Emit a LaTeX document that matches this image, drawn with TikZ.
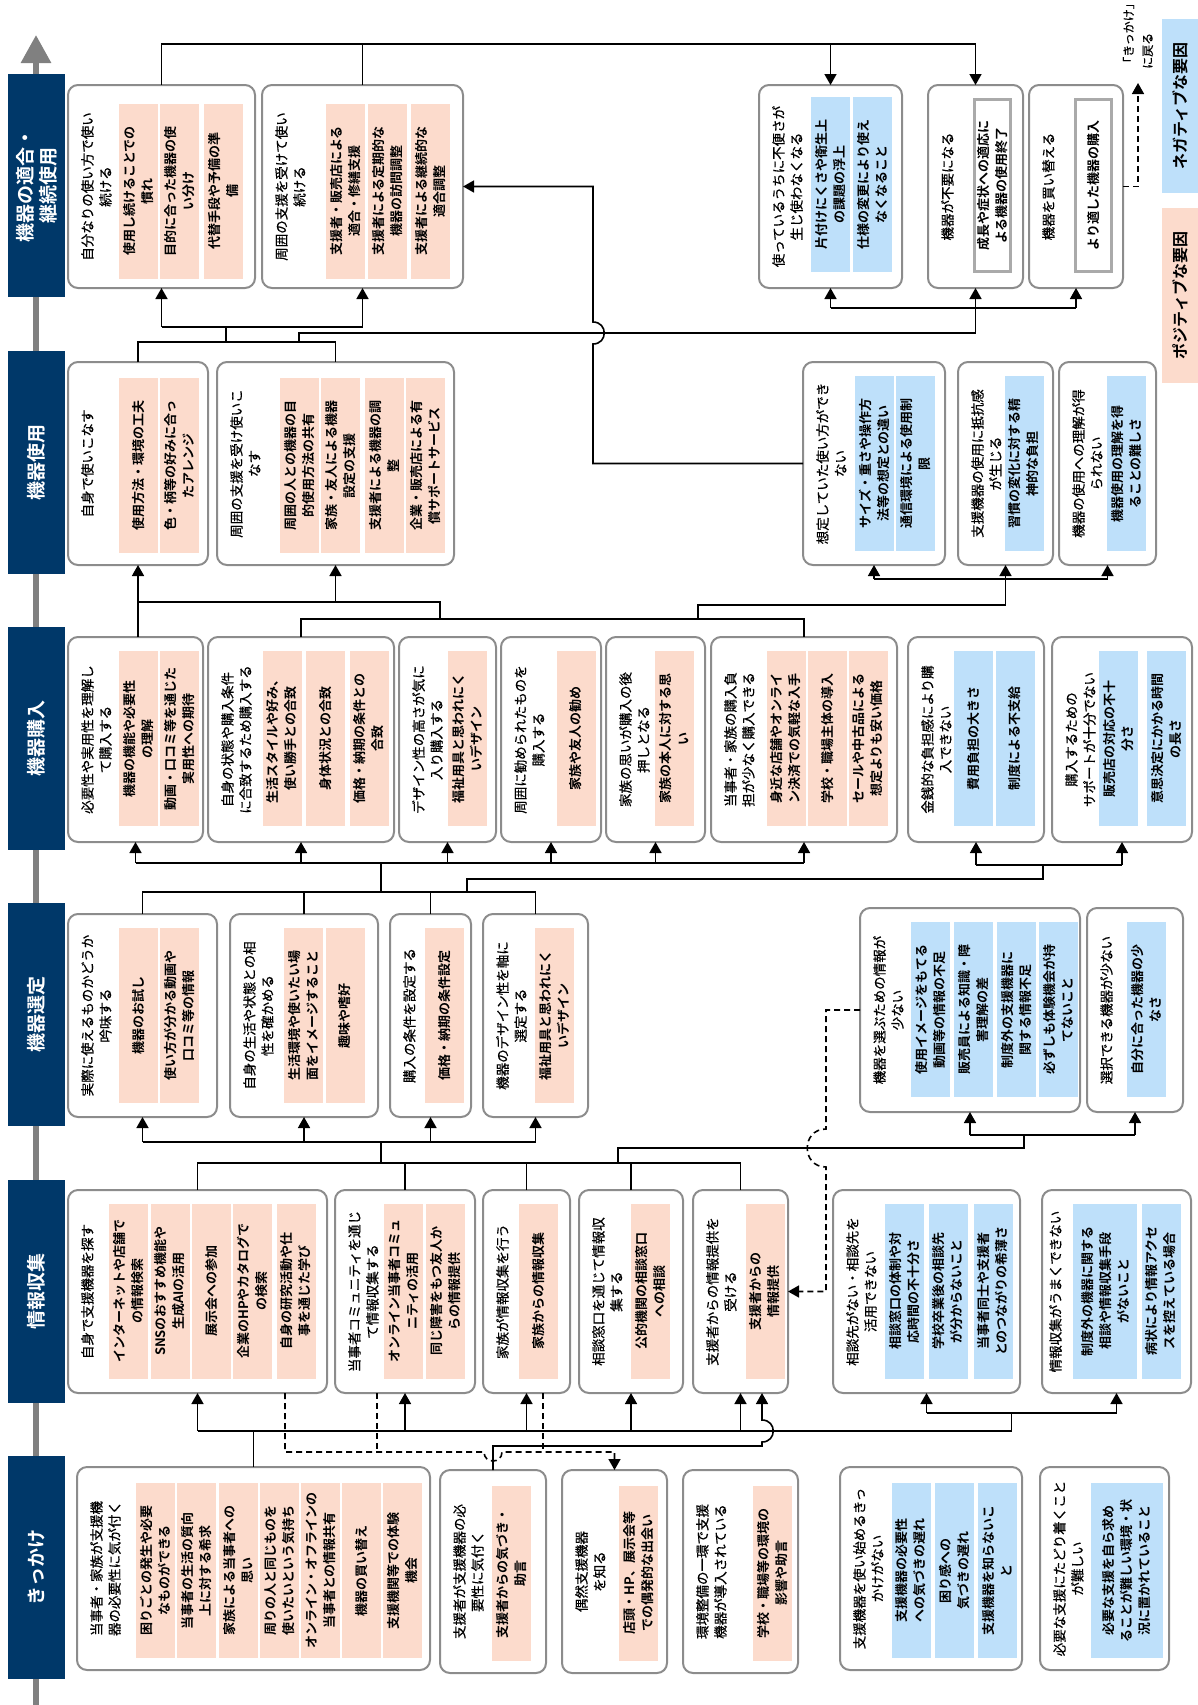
\documentclass[tikz,border=0pt]{standalone}
\usepackage{fontspec}
\setmainfont{Noto Sans CJK JP}[BoldFont={Noto Sans CJK JP Bold}]
\newfontfamily\ttlfont{Noto Sans CJK JP}[FakeBold=0.5]
\usetikzlibrary{arrows.meta}
\definecolor{navy}{RGB}{0,56,105}
\definecolor{posfill}{RGB}{252,219,204}
\definecolor{negfill}{RGB}{190,224,250}
\definecolor{cardgray}{RGB}{140,140,140}
\definecolor{keepgray}{RGB}{170,170,170}
\definecolor{flowgray}{RGB}{128,128,128}

\begin{document}
\begin{tikzpicture}[x=1pt, y=-1pt,
  card/.style={draw=cardgray, line width=2pt, rounded corners=10pt, fill=white, rotate=90, inner sep=0pt, outer sep=0pt},
  ttl/.style={rotate=90, anchor=north, align=center, inner sep=0pt, font=\ttlfont\fontsize{13.5pt}{18pt}\selectfont},
  good/.style={rotate=90, fill=posfill, align=center, inner sep=0pt, minimum width=175pt, minimum height=39pt, font=\fontsize{13pt}{18pt}\selectfont\bfseries},
  bad/.style={good, fill=negfill},
  keep/.style={rotate=90, draw=keepgray, line width=3pt, fill=white, align=center, inner sep=0pt, minimum width=172pt, minimum height=36pt, font=\fontsize{13pt}{18pt}\selectfont\bfseries},
  stage/.style={rotate=90, fill=navy, text=white, align=center, inner sep=0pt, minimum width=223pt, minimum height=57pt, font=\fontsize{19pt}{23pt}\selectfont\bfseries},
  tag/.style={rotate=90, inner sep=0pt, minimum height=36pt, font=\fontsize{16pt}{20pt}\selectfont\bfseries},
  link/.style={line width=1.6pt},
  arr/.style={link, -{Triangle[length=11pt,width=12pt]}},
  dashln/.style={link, dash pattern=on 6pt off 4pt},
  dasharr/.style={dashln, -{Triangle[length=11pt,width=12pt]}}]
\useasboundingbox (0,0) rectangle (1198,1705);

% flow of stages
\draw[line width=6pt, flowgray, -{Triangle[length=28pt,width=29pt]}] (36,1705) -- (36,35);
\node[stage] (h1) at (36.5,1567.5) {きっかけ};
\node[stage] (h2) at (36.5,1291.5) {情報収集};
\node[stage] (h3) at (36.5,1014.5) {機器選定};
\node[stage] (h4) at (36.5,738.5) {機器購入};
\node[stage] (h5) at (36.5,462) {機器使用};
\node[stage] (h6) at (36.5,185.5) {機器の適合・\\継続使用};

% legend
\node[tag, fill=negfill, minimum width=174pt] (lgneg) at (1180,106) {ネガティブな要因};
\node[tag, fill=posfill, minimum width=175pt] (lgpos) at (1180,295.5) {ポジティブな要因};

% ---- きっかけ
\node[card, minimum width=203pt, minimum height=353pt] (f1) at (253.5,1568.5) {};
\node[ttl] at (90,1568.5) {当事者・家族が支援機\\器の必要性に気が付く};
\node[good] (f1a) at (155.5,1570.5) {困りごとの発生や必要\\なものができる};
\node[good] (f1b) at (196.5,1570.5) {当事者の生活の質向\\上に対する希求};
\node[good] (f1c) at (238,1570.5) {家族による当事者への\\思い};
\node[good] (f1d) at (279.5,1570.5) {周りの人と同じものを\\使いたいという気持ち};
\node[good] (f1e) at (320.5,1570.5) {オンライン・オフラインの\\当事者との情報共有};
\node[good] (f1f) at (361.5,1570.5) {機器の買い替え};
\node[good] (f1g) at (402.5,1570.5) {支援機関等での体験\\機会};

\node[card, minimum width=203pt, minimum height=106pt] (f2) at (493,1571.5) {};
\node[ttl] at (453,1571.5) {支援者が支援機器の必\\要性に気付く};
\node[good] (f2a) at (511.5,1573) {支援者からの気づき・\\助言};

\node[card, minimum width=203pt, minimum height=105pt] (f3) at (614.5,1571.5) {};
\node[ttl] at (575,1571.5) {偶然支援機器\\を知る};
\node[good] (f3a) at (638.5,1573) {店頭・HP、展示会等\\での偶発的な出会い};

\node[card, minimum width=203pt, minimum height=115pt] (f4) at (740.5,1571.5) {};
\node[ttl] at (696,1571.5) {環境整備の一環で支援\\機器が導入されている};
\node[good] (f4a) at (772.5,1573) {学校・職場等の環境の\\影響や助言};

\node[card, minimum width=203pt, minimum height=182pt] (f5) at (931,1568.5) {};
\node[ttl] at (853,1568.5) {支援機器を使い始めるきっ\\かけがない};
\node[bad] (f5a) at (911,1570.5) {支援機器の必要性\\への気づきの遅れ};
\node[bad] (f5b) at (954.5,1570.5) {困り感への\\気づきの遅れ};
\node[bad] (f5c) at (997.5,1570.5) {支援機器を知らないこ\\と};

\node[card, minimum width=203pt, minimum height=129pt] (f6) at (1104.5,1568.5) {};
\node[ttl] at (1053,1568.5) {必要な支援にたどり着くこと\\が難しい};
\node[bad, minimum height=72pt] (f6a) at (1127,1570.5) {必要な支援を自ら求め\\ることが難しい環境・状\\況に置かれていること};

% ---- 情報収集
\node[card, minimum width=203pt, minimum height=259pt] (e1) at (197.5,1291.5) {};
\node[ttl] at (81,1291.5) {自身で支援機器を探す};
\node[good] (e1a) at (128.5,1291) {インターネットや店舗で\\の情報検索};
\node[good] (e1b) at (170,1291) {SNSのおすすめ機能や\\生成AIの活用};
\node[good] (e1c) at (211.5,1291) {展示会への参加};
\node[good] (e1d) at (252.5,1291) {企業のHPやカタログで\\の検索};
\node[good] (e1e) at (296,1291) {自身の研究活動や仕\\事を通じた学び};

\node[card, minimum width=203pt, minimum height=140pt] (e2) at (405,1291.5) {};
\node[ttl] at (348,1291.5) {当事者コミュニティを通じ\\て情報収集する};
\node[good] (e2a) at (403.5,1291) {オンライン当事者コミュ\\ニティの活用};
\node[good] (e2b) at (445.5,1291) {同じ障害をもつ友人か\\らの情報提供};

\node[card, minimum width=203pt, minimum height=87pt] (e3) at (526.5,1291.5) {};
\node[ttl] at (496,1291.5) {家族が情報収集を行う};
\node[good] (e3a) at (538.5,1291) {家族からの情報収集};

\node[card, minimum width=203pt, minimum height=104pt] (e4) at (631,1291.5) {};
\node[ttl] at (592,1291.5) {相談窓口を通じて情報収\\集する};
\node[good] (e4a) at (650.5,1291) {公的機関の相談窓口\\への相談};

\node[card, minimum width=203pt, minimum height=95pt] (e5) at (740.5,1291.5) {};
\node[ttl] at (706,1291.5) {支援者からの情報提供を\\受ける};
\node[good] (e5a) at (765,1291) {支援者からの\\情報提供};

\node[card, minimum width=203pt, minimum height=187pt] (e6) at (926.5,1291.5) {};
\node[ttl] at (846,1291.5) {相談先がない・相談先を\\活用できない};
\node[bad] (e6a) at (904.5,1291) {相談窓口の体制や対\\応時間の不十分さ};
\node[bad] (e6b) at (948,1291) {学校卒業後の相談先\\が分からないこと};
\node[bad] (e6c) at (993,1291) {当事者同士や支援者\\とのつながりの希薄さ};

\node[card, minimum width=203pt, minimum height=149pt] (e7) at (1116.5,1291.5) {};
\node[ttl] at (1049,1291.5) {情報収集がうまくできない};
\node[bad, minimum height=64pt] (e7a) at (1105,1291) {制度外の機器に関する\\相談や情報収集手段\\がないこと};
\node[bad] (e7b) at (1161,1291) {病状により情報アクセ\\スを控えている場合};

% ---- 機器選定
\node[card, minimum width=203pt, minimum height=149pt] (d1) at (142.5,1015.5) {};
\node[ttl] at (81,1015.5) {実際に使えるものかどうか\\吟味する};
\node[good] (d1a) at (138.5,1015.5) {機器のお試し};
\node[good] (d1b) at (179.5,1015.5) {使い方が分かる動画や\\口コミ等の情報};

\node[card, minimum width=203pt, minimum height=148pt] (d2) at (304,1015.5) {};
\node[ttl] at (243,1015.5) {自身の生活や状態との相\\性を確かめる};
\node[good] (d2a) at (303.5,1015.5) {生活環境や使いたい場\\面をイメージすること};
\node[good] (d2b) at (345,1015.5) {趣味や嗜好};

\node[card, minimum width=203pt, minimum height=81pt] (d3) at (430.5,1015.5) {};
\node[ttl] at (403,1015.5) {購入の条件を設定する};
\node[good] (d3a) at (444.5,1015.5) {価格・納期の条件設定};

\node[card, minimum width=203pt, minimum height=105pt] (d4) at (535.5,1015.5) {};
\node[ttl] at (496,1015.5) {機器のデザイン性を軸に\\選定する};
\node[good] (d4a) at (554,1015.5) {福祉用具と思われにく\\いデザイン};

\node[card, minimum width=204pt, minimum height=220pt] (d5) at (970,1010) {};
\node[ttl] at (873,1010) {機器を選ぶための情報が\\少ない};
\node[bad] (d5a) at (930.5,1009.5) {使用イメージをもてる\\動画等の情報の不足};
\node[bad] (d5b) at (973.5,1009.5) {販売員による知識・障\\害理解の差};
\node[bad] (d5c) at (1016.5,1009.5) {制度外の支援機器に\\関する情報不足};
\node[bad] (d5d) at (1058.5,1009.5) {必ずしも体験機会が持\\てないこと};

\node[card, minimum width=204pt, minimum height=96pt] (d6) at (1135,1010) {};
\node[ttl] at (1100,1010) {選択できる機器が少ない};
\node[bad] (d6a) at (1146.5,1009.5) {自分に合った機器の少\\なさ};

% ---- 機器購入
\node[card, minimum width=205pt, minimum height=135pt] (c1) at (135.5,739.5) {};
\node[ttl] at (81,739.5) {必要性や実用性を理解し\\て購入する};
\node[good] (c1a) at (138.5,738.5) {機器の機能や必要性\\の理解};
\node[good] (c1b) at (179.5,738.5) {動画・口コミ等を通じた\\実用性への期待};

\node[card, minimum width=205pt, minimum height=186pt] (c2) at (301,739.5) {};
\node[ttl] at (221,739.5) {自身の状態や購入条件\\に合致するため購入する};
\node[good] (c2a) at (282,738.5) {生活スタイルや好み、\\使い勝手との合致};
\node[good] (c2b) at (325.5,738.5) {身体状況との合致};
\node[good] (c2c) at (369,738.5) {価格・納期の条件との\\合致};

\node[card, minimum width=205pt, minimum height=97pt] (c3) at (447.5,739.5) {};
\node[ttl] at (412,739.5) {デザイン性の高さが気に\\入り購入する};
\node[good] (c3a) at (467,738.5) {福祉用具と思われにく\\いデザイン};

\node[card, minimum width=205pt, minimum height=100pt] (c4) at (551,739.5) {};
\node[ttl] at (514,739.5) {周囲に勧められたものを\\購入する};
\node[good] (c4a) at (576,738.5) {家族や友人の勧め};

\node[card, minimum width=205pt, minimum height=99pt] (c5) at (655.5,739.5) {};
\node[ttl] at (619,739.5) {家族の思いが購入の後\\押しとなる};
\node[good] (c5a) at (674,738.5) {家族の本人に対する思\\い};

\node[card, minimum width=205pt, minimum height=186pt] (c6) at (804,739.5) {};
\node[ttl] at (724,739.5) {当事者・家族の購入負\\担が少なく購入できる};
\node[good] (c6a) at (786,738.5) {身近な店舗やオンライ\\ン決済での気軽な入手};
\node[good] (c6b) at (827.5,738.5) {学校・職場主体の導入};
\node[good] (c6c) at (868,738.5) {セールや中古品による\\想定よりも安い価格};

\node[card, minimum width=205pt, minimum height=136pt] (c7) at (976,739.5) {};
\node[ttl] at (921,739.5) {金銭的な負担感により購\\入できない};
\node[bad] (c7a) at (973.5,738.5) {費用負担の大きさ};
\node[bad] (c7b) at (1015,738.5) {制度による不支給};

\node[card, minimum width=205pt, minimum height=140pt] (c8) at (1122,739.5) {};
\node[ttl] at (1065,739.5) {購入するための\\サポートが十分でない};
\node[bad] (c8a) at (1118.5,738.5) {販売店の対応の不十\\分さ};
\node[bad] (c8b) at (1166.5,738.5) {意思決定にかかる時間\\の長さ};

% ---- 機器使用
\node[card, minimum width=203pt, minimum height=140pt] (b1) at (138,463.5) {};
\node[ttl] at (81,463.5) {自身で使いこなす};
\node[good] (b1a) at (138.5,465.5) {使用方法・環境の工夫};
\node[good] (b1b) at (179.5,465.5) {色・柄等の好みに合っ\\たアレンジ};

\node[card, minimum width=203pt, minimum height=237pt] (b2) at (335.5,463.5) {};
\node[ttl] at (230,463.5) {周囲の支援を受け使いこ\\なす};
\node[good] (b2a) at (299.5,465.5) {周囲の人との機器の目\\的使用方法の共有};
\node[good] (b2b) at (340.5,465.5) {家族・友人による機器\\設定の支援};
\node[good] (b2c) at (384,465.5) {支援者による機器の調\\整};
\node[good] (b2d) at (425.5,465.5) {企業・販売店による有\\償サポートサービス};

\node[card, minimum width=203pt, minimum height=142pt] (b3) at (874,463.5) {};
\node[ttl] at (816,463.5) {想定していた使い方ができ\\ない};
\node[bad] (b3a) at (874.5,463.5) {サイズ・重さや操作方\\法等の想定との違い};
\node[bad] (b3b) at (915.5,463.5) {通信環境による使用制\\限};

\node[card, minimum width=203pt, minimum height=95pt] (b4) at (1005.5,463.5) {};
\node[ttl] at (971,463.5) {支援機器の使用に抵抗感\\が生じる};
\node[bad] (b4a) at (1024,463.5) {習慣の変化に対する精\\神的な負担};

\node[card, minimum width=203pt, minimum height=97pt] (b5) at (1107.5,463.5) {};
\node[ttl] at (1072,463.5) {機器の使用への理解が得\\られない};
\node[bad] (b5a) at (1126.5,463.5) {機器使用の理解を得\\ることの難しさ};

% ---- 機器の適合・継続使用
\node[card, minimum width=203pt, minimum height=187pt] (a1) at (161.5,186.5) {};
\node[ttl] at (81,186.5) {自分なりの使い方で使い\\続ける};
\node[good] (a1a) at (138.5,191) {使用し続けることでの\\慣れ};
\node[good] (a1b) at (179.5,191) {目的に合った機器の使\\い分け};
\node[good] (a1c) at (223.5,191) {代替手段や予備の準\\備};

\node[card, minimum width=203pt, minimum height=201pt] (a2) at (362.5,186.5) {};
\node[ttl] at (275,186.5) {周囲の支援を受けて使い\\続ける};
\node[good] (a2a) at (345.5,191) {支援者・販売店による\\適合・修繕支援};
\node[good] (a2b) at (387.5,191) {支援者による定期的な\\機器の訪問調整};
\node[good] (a2c) at (430.5,191) {支援者による継続的な\\適合調整};

\node[card, minimum width=203pt, minimum height=143pt] (a3) at (830.5,186.5) {};
\node[ttl] at (772,186.5) {使っているうちに不便さが\\生じ使わなくなる};
\node[bad] (a3a) at (830.5,184.5) {片付けにくさや衛生上\\の課題の浮上};
\node[bad] (a3b) at (872.5,184.5) {仕様の変更により使え\\なくなること};

\node[card, minimum width=203pt, minimum height=95pt] (a4) at (975.5,186.5) {};
\node[ttl] at (941,186.5) {機器が不要になる};
\node[keep] (a4a) at (992.5,185.5) {成長や症状への適応に\\よる機器の使用終了};

\node[card, minimum width=203pt, minimum height=94pt] (a5) at (1076,186.5) {};
\node[ttl] at (1042,186.5) {機器を買い替える};
\node[keep] (a5a) at (1093.5,185.5) {より適した機器の購入};

\node[rotate=90, anchor=west, align=left, inner sep=0pt, font=\ttlfont\fontsize{12pt}{19pt}\selectfont] (back) at (1138,69) {「きっかけ」\\に戻る};

% きっかけ -> 情報収集
\draw[link] (f1.east) -- ++(0,-36) coordinate (k1);
\draw[link] (k1 -| e1.west) -- ++(814,0) -- ++(0,-18) coordinate (k2);
\foreach \n in {e1,e2,e3,e4,e5} \draw[arr] (k1 -| \n.west) -- (\n.west);
\draw[link] (k2 -| e6.west) -- (k2 -| e7.west);
\foreach \n in {e6,e7} \draw[arr] (k2 -| \n.west) -- (\n.west);
\draw[arr] (f2.east) -- ++(0,-24) -- (762,1446) -- (762,1442) .. controls (777,1442) and (777,1420) .. (762,1420) -- ([xshift=21.5pt]e5.west);
\draw[dasharr] ([xshift=87.5pt]e1.west) -- (285,1452) -- (484,1452) .. controls (484,1464) and (502,1464) .. (502,1452) -| (f3.east);
\draw[dashln] ([xshift=-28pt]e2.west) -- (377,1452);
\draw[dashln] ([xshift=16.5pt]e3.west) -- (543,1452);

% 情報収集 -> 機器選定
\draw[link] (e1.east) -- ++(0,-27) coordinate (j1) -- (j1 -| e5.east);
\foreach \n in {e2,e3,e4,e5} \draw[link] (\n.east) -- (j1 -| \n.east);
\draw[link] (381,1163) -- (381,1142) coordinate (j2);
\draw[link] (j2 -| d1.west) -- (j2 -| d4.west);
\foreach \n in {d1,d2,d3,d4} \draw[arr] (j2 -| \n.west) -- (\n.west);
\draw[link] (618,1163) -- (618,1148) -- (1024,1148) -- (1024,1135) coordinate (j3);
\draw[link] (j3 -| d5.west) -- (j3 -| d6.west);
\foreach \n in {d5,d6} \draw[arr] (j3 -| \n.west) -- (\n.west);
\draw[dasharr] (d5.north) -- (826,1010) -- (826,1129) .. controls (801,1129) and (801,1167) .. (826,1167) |- (e5.south);

% 機器選定 -> 機器購入
\draw[link] (d1.east) -- ++(0,-22) coordinate (s1) -- (s1 -| d4.east);
\foreach \n in {d2,d3,d4} \draw[link] (\n.east) -- (s1 -| \n.east);
\draw[link] (381,892) -- (381,863) coordinate (s2);
\draw[link] (s2 -| c1.west) -- (s2 -| c6.west);
\foreach \n in {c1,c2,c3,c4,c5,c6} \draw[arr] (s2 -| \n.west) -- (\n.west);
\draw[link] (467,892) -- (467,879) -- (1043,879) -- (1043,865) coordinate (s3);
\draw[link] (s3 -| c7.west) -- (s3 -| c8.west);
\foreach \n in {c7,c8} \draw[arr] (s3 -| \n.west) -- (\n.west);

% 機器購入 -> 機器使用
\draw[arr] (b1.west |- c1.east) -- (b1.west);
\coordinate (u1) at (440,602);
\draw[link] (b1.west |- u1) -- (u1) -- (440,619);
\draw[arr] (b2.west |- u1) -- (b2.west);
\draw[link] (c2.east) -- ++(0,-18) coordinate (u2) -- (u2 -| c6.east) -- (c6.east);
\draw[arr] (698,619) -- (698,605) -| (b4.west);
\coordinate (u3) at (1005.5,579);
\draw[link] (u3 -| b3.west) -- (u3 -| b5.west);
\foreach \n in {b3,b5} \draw[arr] (u3 -| \n.west) -- (\n.west);
\draw[arr] (b3.north) -- (593,463.5) -- (593,344) .. controls (608,344) and (608,322) .. (593,322) |- (a2.south);

% 機器使用 -> 機器の適合・継続使用
\draw[link] (b1.east) -- ++(0,-20) coordinate (v1) -- (v1 -| b2.east) -- (b2.east);
\draw[link] (226,342) -- (226,327) coordinate (v2);
\draw[link] (v2 -| a1.west) -- (v2 -| a2.west);
\foreach \n in {a1,a2} \draw[arr] (v2 -| \n.west) -- (\n.west);
\draw[arr] (299,342) -- (299,333) -| (a4.west);
\coordinate (v3) at (975.5,308);
\draw[link] (v3 -| a3.west) -- (v3 -| a5.west);
\foreach \n in {a3,a5} \draw[arr] (v3 -| \n.west) -- (\n.west);

% 継続使用 -> 不便・不要
\draw[arr] (a1.east) -- ++(0,-41) coordinate (w1) -| (a4.east);
\draw[link] (a2.east) -- (w1 -| a2.east);
\draw[arr] (w1 -| a3.east) -- (a3.east);
\draw[dasharr, shorten >=14pt] (a5.south) -| (back.west);
\end{tikzpicture}
\end{document}
